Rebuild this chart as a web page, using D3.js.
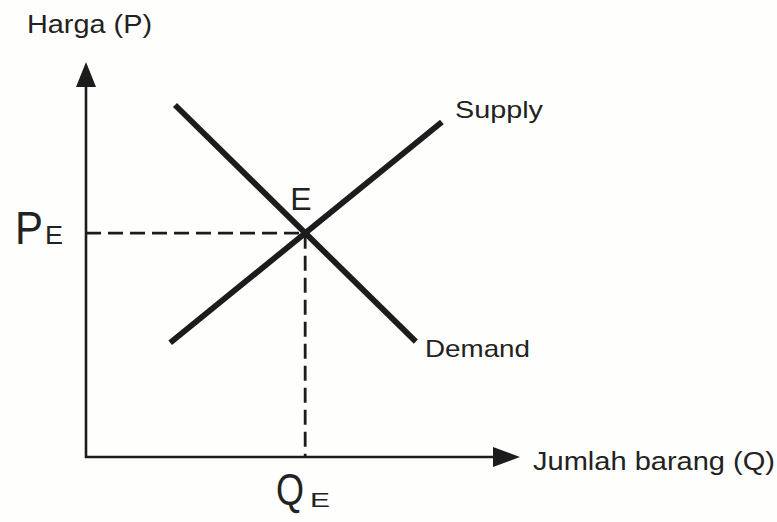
<!DOCTYPE html>
<html>
<head>
<meta charset="utf-8">
<script src="https://cdn.jsdelivr.net/npm/d3@7"></script>
<style>
  body { margin: 0; background: #fefefc; }
  svg { display: block; }
  text { font-family: "Liberation Sans", Arial, sans-serif; fill: #222; }
</style>
</head>
<body>
<svg id="chart" width="777" height="522"></svg>
<script>
// curve end points in (Q, P) units, axes run 0..10
var supply = [[1.94, 2.89], [8.2, 8.48]];
var demand = [[2.05, 8.91], [7.6, 2.92]];
var equilibrium = { q: 5.05, p: 5.67 };
var axisLabels = ["Harga (P)", "Jumlah barang (Q)"];
var curveLabels = ["Supply", "Demand"];

var svg = d3.select("#chart");
var ink = "#1c1c1c";

var x = d3.scaleLinear().domain([0, 10]).range([86, 520]);
var y = d3.scaleLinear().domain([0, 10]).range([457, 62]);

var line = d3.line()
    .x(function(d) { return x(d[0]); })
    .y(function(d) { return y(d[1]); });

// axes with arrow heads
svg.append("path")
    .attr("d", line([[0, 9.4], [0, 0], [9.4, 0]]))
    .style("fill", "none")
    .style("stroke", ink)
    .style("stroke-width", "2.6px");

svg.append("path")
    .attr("d", "M" + x(0) + "," + y(10) + "L" + (x(0) - 10) + "," + (y(10) + 25) + "L" + (x(0) + 10) + "," + (y(10) + 25) + "Z")
    .style("fill", ink);

svg.append("path")
    .attr("d", "M" + x(10) + "," + y(0) + "L" + (x(10) - 27) + "," + (y(0) - 10) + "L" + (x(10) - 27) + "," + (y(0) + 10) + "Z")
    .style("fill", ink);

// dashed guides to the equilibrium
svg.append("path")
    .attr("d", line([[0, equilibrium.p], [equilibrium.q, equilibrium.p], [equilibrium.q, 0]]))
    .style("fill", "none")
    .style("stroke", ink)
    .style("stroke-width", "2.8px")
    .style("stroke-dasharray", "15,7");

// supply and demand
[supply, demand].forEach(function(c) {
  svg.append("path")
      .attr("d", line(c))
      .style("fill", "none")
      .style("stroke", ink)
      .style("stroke-width", "5.8px");
});

function label(t, px, py, size, len) {
  var el = svg.append("text")
      .attr("x", px)
      .attr("y", py)
      .style("font-size", size + "px")
      .text(t);
  if (len) el.attr("textLength", len).attr("lengthAdjust", "spacingAndGlyphs");
  return el;
}

label(axisLabels[0], 27, 33, 25, 125);
label(axisLabels[1], 533, 470, 25, 242);
label(curveLabels[0], 455, 118, 24, 88);
label(curveLabels[1], 425, 357, 24, 105);
label("E", x(equilibrium.q) - 15, y(equilibrium.p) - 23, 32);

label("P", 15, 244, 47, 28);
label("E", 45, 244, 26, 18);
label("Q", 276, 505, 44, 28);
label("E", 310, 507, 21, 20);
</script>
</body>
</html>
